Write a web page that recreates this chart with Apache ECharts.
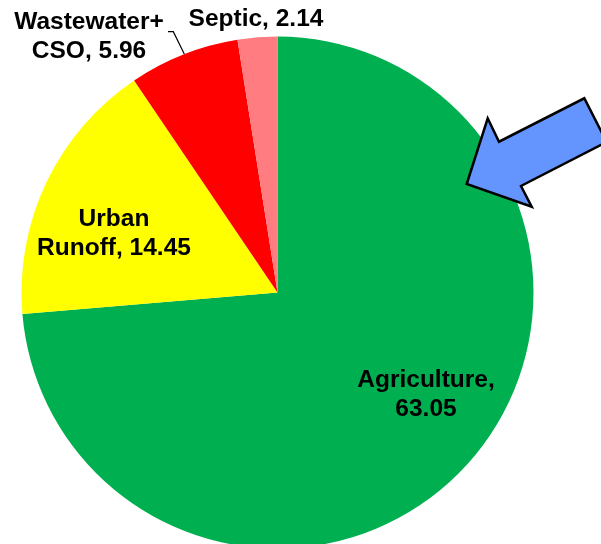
<!DOCTYPE html>
<html>
<head>
<meta charset="utf-8">
<script src="https://cdn.jsdelivr.net/npm/echarts@6/dist/echarts.min.js"></script>
<style>
html,body{margin:0;padding:0;background:#fff;}
#main{width:601px;height:544px;}
</style>
</head>
<body>
<div id="main"></div>
<script>
const categories = ['Agriculture', 'Urban Runoff', 'Wastewater+CSO', 'Septic'];
const values = [63.05, 14.45, 5.96, 2.14];
const colors = ['#00B050', '#FFFF00', '#FF0000', '#FF7C80'];

function labelText(name, value, i) {
  if (i === 0) return name + ',\n' + value.toFixed(2);
  if (i === 1) return name.replace(' ', '\n') + ', ' + value.toFixed(2);
  if (i === 2) return name.replace('+', '+\n') + ', ' + value.toFixed(2);
  return name + ', ' + value.toFixed(2);
}

// label anchor positions (text placement only)
const labelPos = [[426, 395], [114, 234], [89, 37], [256, 19]];

const chart = echarts.init(document.getElementById('main'), null, {renderer: 'canvas'});
chart.setOption({
  animation: false,
  backgroundColor: '#ffffff',
  series: [{
    type: 'pie',
    center: [277.5, 292.5],
    radius: 256,
    startAngle: 90,
    clockwise: true,
    avoidLabelOverlap: false,
    itemStyle: {borderWidth: 0},
    emphasis: {disabled: true},
    label: {
      show: true,
      position: 'outside',
      color: '#000',
      fontFamily: 'Liberation Sans, Arial, sans-serif',
      fontWeight: 'bold',
      fontSize: 24.5,
      lineHeight: 29,
      align: 'center',
      formatter: p => labelText(p.name, p.value, p.dataIndex)
    },
    labelLine: {show: false, lineStyle: {color: '#000', width: 1.2}},
    labelLayout: function (params) {
      const i = params.dataIndex;
      const out = {x: labelPos[i][0], y: labelPos[i][1], align: 'center', verticalAlign: 'middle'};
      if (i === 2) {
        out.labelLinePoints = [[184.3, 54], [173.3, 31.7], [168, 31.7]];
      }
      return out;
    },
    data: categories.map((c, i) => ({
      name: c,
      value: values[i],
      itemStyle: {color: colors[i]},
      labelLine: {show: i === 2}
    }))
  }],
  graphic: [{
    type: 'polygon',
    z: 100,
    shape: {
      points: [[466.7, 184], [487.7, 118.3], [499, 141.7], [584.3, 98.3], [606.6, 141.9], [521, 186], [531.7, 206.7]]
    },
    style: {fill: '#6495FF', stroke: '#000', lineWidth: 2.5, lineJoin: 'miter'}
  }]
});
</script>
</body>
</html>
